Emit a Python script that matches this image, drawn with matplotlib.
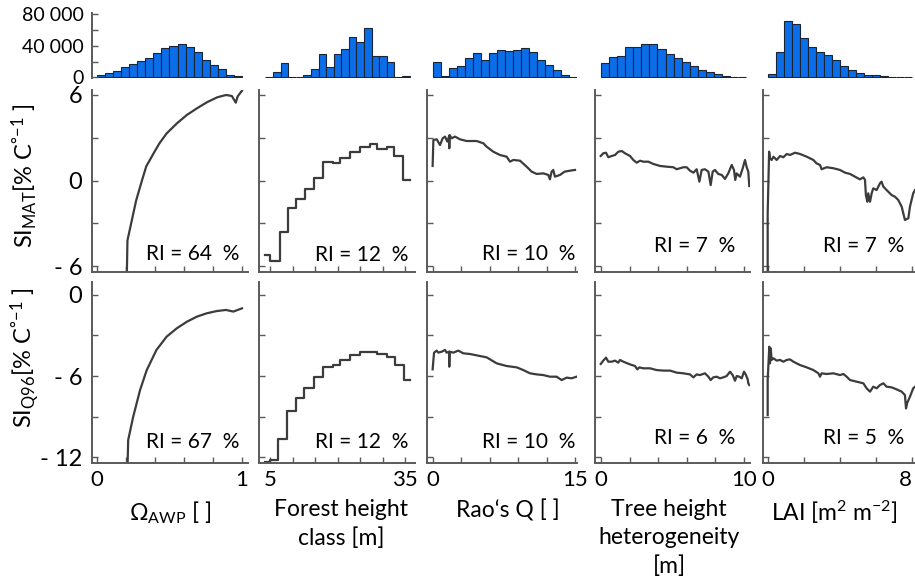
import numpy as np
import matplotlib
matplotlib.use('Agg')
import matplotlib.pyplot as plt

plt.rcParams['font.family'] = ['Lato', 'DejaVu Sans']
plt.rcParams['mathtext.fontset'] = 'custom'
plt.rcParams['mathtext.rm'] = 'Lato'
plt.rcParams['mathtext.it'] = 'Lato:italic'
plt.rcParams['mathtext.bf'] = 'Lato:bold'

# ---------------- data ----------------
# histograms (counts per bin) and bin ranges
hist_counts = [
    [2500, 5000, 8000, 13000, 17000, 21000, 25000, 31000, 37000, 40000, 42000,
     38000, 32000, 22000, 15500, 10000, 3000, 2000],
    [1000, 6700, 17700, 0, 0, 2500, 10500, 30000, 13000, 29500, 36000, 51000,
     44600, 62000, 26500, 26500, 19000, 0, 2000],
    [20000, 2000, 12000, 15000, 24000, 31000, 21500, 30700, 35000, 33700, 35000,
     37500, 32000, 22300, 15600, 9300, 2500, 0],
    [17700, 25700, 27000, 38700, 38700, 42000, 42000, 35800, 29500, 24000, 19000,
     14300, 9300, 6300, 3800, 1700, 800, 400],
    [3800, 31600, 72000, 67800, 49700, 37900, 32400, 28200, 21500, 14300, 9300,
     5500, 3000, 2500, 1300, 800, 0, 0],
]
hist_range = [(0, 1), (4, 36), (0, 15.25), (0, 10.15), (0, 8)]

# SI_MAT curves
x_mat = [
    [0.205, 0.21, 0.24, 0.27, 0.31, 0.34, 0.39, 0.43, 0.48, 0.55, 0.62, 0.69, 0.76,
     0.83, 0.89, 0.93, 0.957, 0.97, 1.0],
    [3.9, 5.0, 7.2, 9.1, 10.7, 12.8, 14.85, 16.85, 19.0, 20.5, 22.8, 25.0, 27.2,
     28.7, 30.9, 32.6, 34.6, 36.0],
    [-0.04, 0.04, 0.39, 0.74, 1.02, 1.27, 1.51, 1.70, 1.72, 1.75, 1.97, 2.32, 2.85,
     3.56, 4.61, 5.32, 5.67, 6.37, 7.07, 7.78, 8.13, 8.48, 9.19, 9.89, 10.42, 10.95,
     11.65, 12.18, 12.35, 12.53, 12.7, 12.88, 13.41, 13.9, 14.47, 15.0],
    [-0.02, 0.16, 0.35, 0.51, 0.75, 0.98, 1.21, 1.45, 1.68, 2.03, 2.26, 2.5, 2.73,
     2.96, 3.31, 3.66, 4.13, 4.59, 5.06, 5.29, 5.76, 5.99, 6.22, 6.46, 6.69, 6.88,
     7.04, 7.27, 7.51, 7.67, 7.81, 7.97, 8.2, 8.44, 8.67, 8.9, 9.14, 9.3, 9.39,
     9.49, 9.72, 9.91, 10.07, 10.19, 10.3, 10.37],
    [-0.02, -0.02, 0.06, 0.11, 0.2, 0.3, 0.48, 0.67, 0.85, 1.04, 1.22, 1.5, 1.78,
     2.15, 2.52, 2.7, 2.89, 2.98, 3.26, 3.63, 4.0, 4.28, 4.56, 4.83, 5.11, 5.3, 5.39,
     5.44, 5.52, 5.57, 5.67, 5.76, 5.85, 6.04, 6.22, 6.31, 6.41, 6.59, 6.87, 7.06,
     7.24, 7.43, 7.61, 7.8, 7.89, 8.07, 8.17],
]
y_mat = [
    [-7, -4.2, -2.8, -1.4, 0.0, 1.0, 1.9, 2.6, 3.3, 4.0, 4.6, 5.07, 5.5, 5.84, 6.0,
     5.93, 5.46, 5.9, 6.3],
    [-5.2, -5.65, -3.6, -1.9, -1.3, -0.6, 0.15, 1.32, 1.2, 1.6, 2.0, 2.37, 2.54,
     2.2, 2.37, 1.74, 0.04, 0.04],
    [1.02, 2.84, 2.89, 2.49, 2.96, 3.08, 2.73, 3.1, 2.26, 3.19, 2.96, 3.08, 2.89,
     2.77, 2.77, 2.61, 2.37, 2.02, 1.79, 1.67, 1.32, 1.44, 1.39, 0.97, 0.62, 0.46,
     0.5, 0.39, 0.08, 0.62, 0.74, 0.27, 0.39, 0.62, 0.69, 0.74],
    [1.72, 1.91, 1.95, 1.63, 1.72, 1.79, 2.02, 2.07, 1.91, 1.72, 1.44, 1.25, 1.39,
     1.32, 1.32, 1.16, 1.02, 0.97, 0.93, 0.79, 0.93, 0.93, 0.69, 0.55, 0.79, -0.08,
     0.74, 0.79, 0.62, -0.32, 0.62, 0.74, 0.46, 0.39, 0.11, 0.5, 1.09, 0.74, 0.04,
     0.5, 0.27, 0.86, 1.44, 0.93, 0.62, -0.39],
    [-7, -2.3, 2.02, 1.56, 1.44, 1.67, 1.44, 1.72, 1.63, 1.86, 1.79, 1.95, 1.86,
     1.67, 1.44, 1.2, 1.09, 0.79, 0.93, 0.86, 0.74, 0.55, 0.46, 0.27, 0.08, 0.22,
     0.04, -1.02, -1.49, -0.9, -1.49, -0.9, -0.55, -0.67, -0.2, -0.08, -0.43, -0.67,
     -1.02, -1.14, -1.37, -1.84, -2.77, -2.65, -1.84, -0.9, -0.67],
]

# SI_Q96 curves
x_q96 = [
    [0.21, 0.215, 0.25, 0.297, 0.343, 0.41, 0.48, 0.55, 0.62, 0.69, 0.756, 0.826,
     0.89, 0.94, 1.0],
    [4.0, 5.0, 6.85, 8.85, 10.7, 12.6, 14.85, 16.85, 19.07, 20.56, 22.78, 25.0,
     28.7, 30.9, 32.8, 34.8, 36.0],
    [-0.04, 0.11, 0.39, 0.56, 0.92, 1.27, 1.44, 1.70, 1.72, 1.76, 2.15, 2.67, 3.2,
     3.9, 4.96, 5.67, 6.72, 7.78, 8.84, 9.54, 10.24, 10.95, 11.65, 12.35, 13.06,
     13.59, 14.12, 14.64, 15.17],
    [-0.02, 0.16, 0.35, 0.51, 0.75, 0.98, 1.21, 1.33, 1.56, 2.03, 2.38, 2.54, 2.68,
     2.96, 3.43, 3.89, 4.36, 4.83, 5.29, 5.76, 6.22, 6.46, 6.69, 6.92, 7.27, 7.51,
     7.67, 7.85, 8.09, 8.32, 8.55, 8.79, 9.02, 9.21, 9.3, 9.37, 9.49, 9.67, 9.84,
     10.0, 10.14, 10.26, 10.3, 10.37],
    [-0.02, -0.02, 0.07, 0.11, 0.15, 0.2, 0.3, 0.48, 0.67, 0.85, 1.04, 1.22, 1.41,
     1.78, 2.15, 2.52, 2.8, 2.89, 2.98, 3.26, 3.63, 4.0, 4.19, 4.37, 4.56, 4.93, 5.3,
     5.48, 5.67, 5.85, 6.04, 6.22, 6.41, 6.59, 6.87, 7.15, 7.43, 7.61, 7.67, 7.74,
     7.89, 8.07, 8.17],
]
y_q96 = [
    [-13, -10.74, -9.0, -7.04, -5.56, -4.07, -3.09, -2.47, -1.98, -1.6, -1.36,
     -1.19, -1.11, -1.23, -0.99],
    [-12.35, -12.22, -10.69, -8.57, -7.6, -6.86, -6.1, -5.36, -5.19, -4.81, -4.44,
     -4.25, -4.37, -4.62, -5.19, -6.3, -6.3],
    [-5.51, -4.27, -4.12, -4.27, -4.2, -4.07, -4.27, -4.2, -5.31, -4.2, -4.27,
     -4.12, -4.32, -4.37, -4.52, -4.62, -5.06, -5.26, -5.36, -5.56, -5.8, -5.88,
     -5.93, -6.05, -6.05, -6.3, -6.12, -6.17, -6.05],
    [-5.11, -4.86, -4.64, -4.94, -4.94, -4.86, -5.01, -4.81, -4.94, -5.14, -5.26,
     -5.51, -5.36, -5.43, -5.43, -5.56, -5.6, -5.6, -5.75, -5.8, -5.88, -6.1, -5.88,
     -5.93, -5.8, -6.05, -6.3, -6.1, -6.05, -6.17, -6.1, -6.0, -5.68, -5.93, -6.17,
     -6.35, -6.0, -6.05, -6.17, -5.68, -5.93, -6.25, -6.54, -6.67],
    [-8.89, -6.3, -3.83, -5.06, -3.95, -4.81, -4.69, -4.86, -4.81, -4.94, -4.81,
     -4.77, -4.94, -5.19, -5.36, -5.56, -5.8, -6.05, -5.8, -5.85, -5.8, -5.93, -5.85,
     -6.05, -6.3, -6.42, -6.54, -6.91, -7.16, -6.79, -6.91, -6.67, -6.54, -6.79,
     -6.84, -6.99, -7.16, -7.41, -8.4, -7.98, -7.53, -6.91, -6.79],
]
step_curve = [False, True, False, False, False]

ri_mat = ['RI = 64  %', 'RI = 12  %', 'RI = 10  %', 'RI = 7  %', 'RI = 7  %']
ri_q96 = ['RI = 67  %', 'RI = 12  %', 'RI = 10  %', 'RI = 6  %', 'RI = 5  %']

x_titles = ['Ω$_{\\mathregular{AWP}}$ [ ]', 'Forest height\nclass [m]', 'Rao‘s Q [ ]',
            'Tree height\nheterogeneity\n[m]',
            'LAI [m$^{\\mathregular{2}}$ m$^{\\mathregular{{-}2}}$]']
x_ticks = [[0, 0.2, 0.4, 0.6, 0.8, 1.0], [5, 10, 15, 20, 25, 30, 35],
           [0, 3, 6, 9, 12, 15], [0, 2, 4, 6, 8, 10], [0, 2, 4, 6, 8]]
x_end_labels = [('0', '1'), ('5', '35'), ('0', '15'), ('0', '10'), ('0', '8')]
x_lims = [(-0.0345, 1.0414), (2.556, 37.22), (-0.634, 15.21), (-0.42, 10.42),
          (-0.28, 8.17)]

mat_ticks = [-6, -3, 0, 3, 6]
mat_labels = ['- 6', '', '0', '', '6']
q96_ticks = [-12, -9, -6, -3, 0]
q96_labels = ['- 12', '', '- 6', '', '0']
hist_ticks = [0, 20000, 40000, 60000, 80000]
hist_labels = ['0', '', '40 000', '', '80 000']

# ---------------- layout ----------------
W, H = 915, 587
fig = plt.figure(figsize=(W / 100, H / 100), dpi=100)


def rect(l, r, t, b):
    return [l / W, 1 - b / H, (r - l) / W, (b - t) / H]


cols_px = [(92, 248), (259, 415), (427, 577), (595, 750), (763, 915)]
row_hist = (13, 78)
row_mat = (90, 272)
row_q96 = (282, 463)

line_c = '#3c3c3c'
spine_c = '#5a5a5a'
bar_c = '#0b6ee8'
edge_c = '#1a2535'

ri_right = [239, 408, 575, 735, 904]
ri_base_mat = [260, 261, 260, 252, 252]
ri_base_q96 = [448, 448, 448, 444, 444]
xlab_cx = [170, 341, 508, 669, 834]


def style_axis(ax, col):
    for s in ['top', 'right']:
        ax.spines[s].set_visible(False)
    for s in ['left', 'bottom']:
        ax.spines[s].set_color(spine_c)
        ax.spines[s].set_linewidth(1.4)
    ax.tick_params(direction='in', length=4, width=1, color=spine_c,
                   labelcolor='black')
    ax.set_xlim(*x_lims[col])
    ax.set_xticks(x_ticks[col])


for c in range(5):
    l, r = cols_px[c]
    # histogram
    axh = fig.add_axes(rect(l, r, *row_hist))
    lo, hi = hist_range[c]
    edges = np.linspace(lo, hi, len(hist_counts[c]) + 1)
    axh.bar(edges[:-1], hist_counts[c], width=np.diff(edges), align='edge',
            color=bar_c, edgecolor=edge_c, linewidth=0.8)
    axh.set_xlim(*x_lims[c])
    axh.set_ylim(-775, 81550)
    for s in ['top', 'right', 'bottom']:
        axh.spines[s].set_visible(False)
    axh.set_xticks([])
    if c == 0:
        axh.spines['left'].set_color(spine_c)
        axh.spines['left'].set_linewidth(1.4)
        axh.set_yticks(hist_ticks)
        axh.set_yticklabels(hist_labels, fontsize=14)
        axh.tick_params(axis='y', direction='in', length=4, width=1,
                        color=spine_c, pad=6)
    else:
        axh.spines['left'].set_visible(False)
        axh.set_yticks([])
    axh.patch.set_alpha(0)

    # SI_MAT
    axm = fig.add_axes(rect(l, r, *row_mat))
    style_axis(axm, c)
    axm.plot(x_mat[c], y_mat[c], color=line_c, lw=1.6,
             drawstyle='steps-post' if step_curve[c] else 'default')
    axm.set_ylim(-6.42, 6.35)
    axm.set_yticks(mat_ticks)
    axm.set_xticklabels([])
    if c == 0:
        axm.set_yticklabels(mat_labels, fontsize=17)
        axm.tick_params(axis='y', pad=7)
    else:
        axm.set_yticklabels([])
    axm.text(ri_right[c], H - ri_base_mat[c], ri_mat[c], transform=None,
             ha='right', va='baseline', fontsize=15)

    # SI_Q96
    axq = fig.add_axes(rect(l, r, *row_q96))
    style_axis(axq, c)
    axq.plot(x_q96[c], y_q96[c], color=line_c, lw=1.6,
             drawstyle='steps-post' if step_curve[c] else 'default')
    axq.set_ylim(-12.44, 0.96)
    axq.set_yticks(q96_ticks)
    if c == 0:
        axq.set_yticklabels(q96_labels, fontsize=17)
        axq.tick_params(axis='y', pad=7)
    else:
        axq.set_yticklabels([])
    labs = [''] * len(x_ticks[c])
    labs[0], labs[-1] = x_end_labels[c]
    tl = axq.set_xticklabels(labs, fontsize=16)
    if c == 4:
        tl[-1].set_horizontalalignment('right')
    axq.tick_params(axis='x', pad=5)
    axq.text(ri_right[c], H - ri_base_q96[c], ri_q96[c], transform=None,
             ha='right', va='baseline', fontsize=15)

    fig.text(xlab_cx[c] / W, 1 - 499 / H, x_titles[c], ha='center',
             va='top', fontsize=16.5, linespacing=1.42, multialignment='center')

fig.text(25 / W, 1 - 176 / H,
         'SI$_{\\mathregular{MAT}}$[% C$^{\\mathregular{°{-}1}}$ ]',
         rotation=90, ha='center', va='center', fontsize=17)
fig.text(25 / W, 1 - 358 / H,
         'SI$_{\\mathregular{Q96}}$[% C$^{\\mathregular{°{-}1}}$ ]',
         rotation=90, ha='center', va='center', fontsize=17)

fig.savefig('out.png', dpi=100)
